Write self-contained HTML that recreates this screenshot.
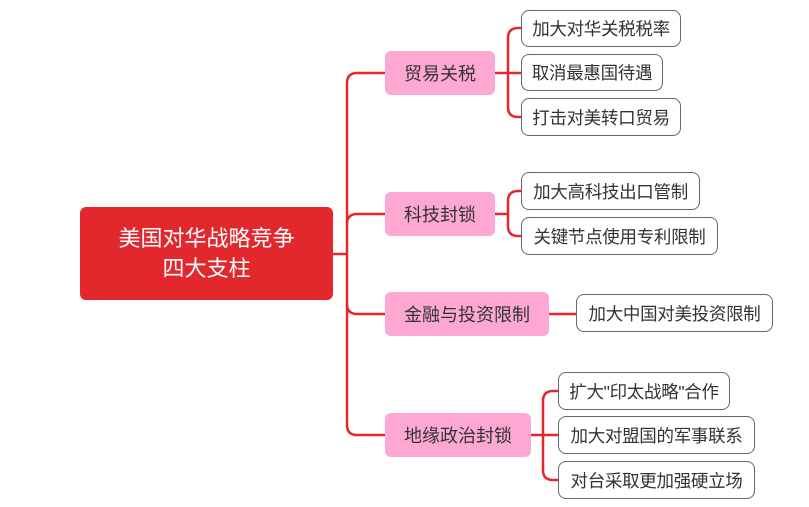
<!DOCTYPE html>
<html><head><meta charset="utf-8"><style>
body{margin:0;background:#fff;width:809px;height:507px;overflow:hidden;position:relative;font-family:"Liberation Sans","Noto Sans CJK SC",sans-serif}
.b{position:absolute;box-sizing:border-box;display:flex;align-items:center;justify-content:center;white-space:nowrap}
.root{background:#e2282d;color:#fff;font-size:22px;border-radius:6px;line-height:30px;text-align:center;flex-direction:column}
.br{background:#fda8d2;color:#333;font-size:18px;border-radius:6px}
.lf{background:#fff;border:1.5px solid #666;color:#333;font-size:17.5px;border-radius:8px;letter-spacing:-0.3px}
svg{position:absolute;left:0;top:0}
</style></head><body>
<svg width="809" height="507" fill="none" stroke="#e2282d" stroke-width="2.5">
<path d="M333 254H347"/>
<path d="M385 73H357Q347 73 347 83V425Q347 435 357 435H385"/>
<path d="M347 224Q347 214 357 214H385"/>
<path d="M347 304Q347 314 357 314H385"/>
<path d="M495 73H521M508 73V38Q508 28 518 28H521M508 73V107Q508 117 518 117H521"/>
<path d="M495 214H508M508 214V201Q508 191 518 191H521M508 214V226Q508 236 518 236H521"/>
<path d="M549 314H576"/>
<path d="M531 435H558M543 435V401Q543 391 553 391H558M543 435V470Q543 480 553 480H558"/>
</svg>
<div class="b root" style="left:80px;top:207px;width:253px;height:93px"><div>美国对华战略竞争</div><div>四大支柱</div></div>
<div class="b br" style="left:385px;top:51px;width:110px;height:44px">贸易关税</div>
<div class="b br" style="left:385px;top:192px;width:110px;height:44px">科技封锁</div>
<div class="b br" style="left:385px;top:292px;width:164px;height:44px">金融与投资限制</div>
<div class="b br" style="left:385px;top:413px;width:146px;height:44px">地缘政治封锁</div>
<div class="b lf" style="left:521px;top:10px;width:160px;height:37px">加大对华关税税率</div>
<div class="b lf" style="left:521px;top:54px;width:142px;height:37px">取消最惠国待遇</div>
<div class="b lf" style="left:521px;top:98px;width:160px;height:38px">打击对美转口贸易</div>
<div class="b lf" style="left:521px;top:172px;width:179px;height:38px">加大高科技出口管制</div>
<div class="b lf" style="left:521px;top:217px;width:197px;height:38px">关键节点使用专利限制</div>
<div class="b lf" style="left:576px;top:294px;width:197px;height:38px">加大中国对美投资限制</div>
<div class="b lf" style="left:558px;top:372px;width:172px;height:38px">扩大"印太战略"合作</div>
<div class="b lf" style="left:558px;top:416px;width:197px;height:38px">加大对盟国的军事联系</div>
<div class="b lf" style="left:558px;top:461px;width:197px;height:38px">对台采取更加强硬立场</div>
</body></html>
